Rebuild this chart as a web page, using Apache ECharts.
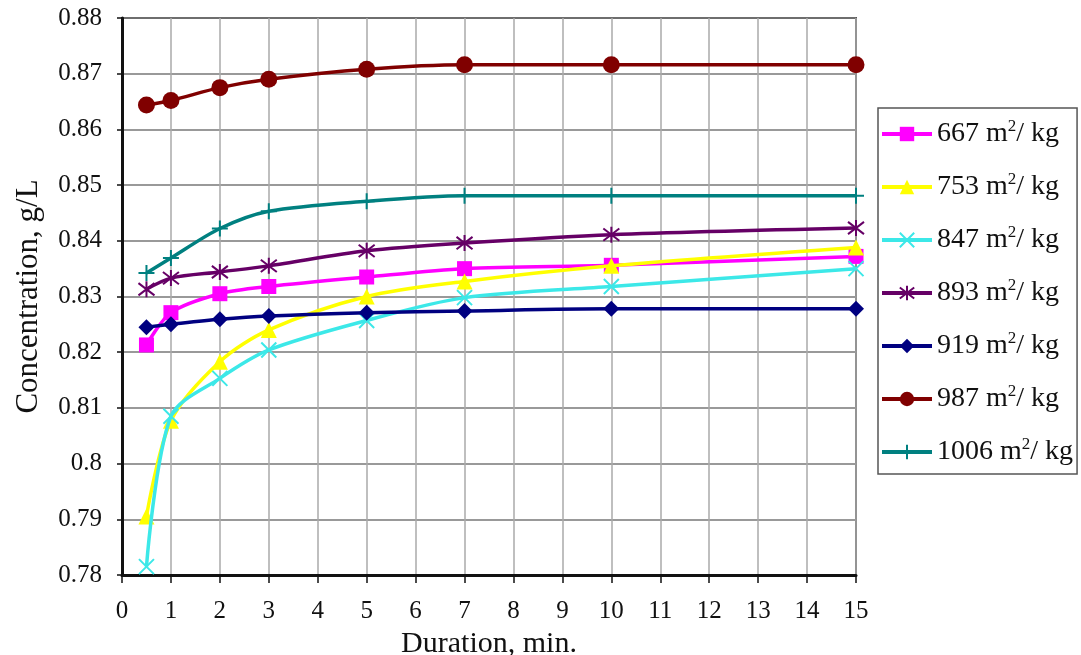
<!DOCTYPE html>
<html>
<head>
<meta charset="utf-8">
<script src="https://cdn.jsdelivr.net/npm/echarts@6/dist/echarts.min.js"></script>
<style>
html,body{margin:0;padding:0;background:#fff;}
#main{width:1081px;height:655px;}
</style>
</head>
<body>
<div id="main"></div>
<script>
// ---- data ----
const durations = [0.5, 1, 2, 3, 5, 7, 10, 15];
const seriesNames = ['667', '753', '847', '893', '919', '987', '1006'];
const s667  = [0.8213, 0.8271, 0.8305, 0.8318, 0.8335, 0.8350, 0.8356, 0.8372];
const s753  = [0.7905, 0.8077, 0.8183, 0.8240, 0.8300, 0.8327, 0.8355, 0.8388];
const s847  = [0.7815, 0.8085, 0.8153, 0.8204, 0.8257, 0.8298, 0.8318, 0.8350];
const s893  = [0.8313, 0.8333, 0.8344, 0.8355, 0.8382, 0.8396, 0.8411, 0.8423];
const s919  = [0.8245, 0.8250, 0.8259, 0.8265, 0.8271, 0.8274, 0.8278, 0.8278];
const s987  = [0.8644, 0.8652, 0.8675, 0.8690, 0.8708, 0.8716, 0.8716, 0.8716];
const s1006 = [0.8342, 0.8369, 0.8422, 0.8453, 0.8471, 0.8481, 0.8481, 0.8481];
const yTicks = {min: 0.78, max: 0.88, interval: 0.01};
const xTicks = {min: 0, max: 15, interval: 1};

const values = [s667, s753, s847, s893, s919, s987, s1006];
const colors = ['#ff00ff', '#ffff00', '#3ce8e8', '#660066', '#000080', '#800000', '#008080'];
const symbols = [
  'rect',
  'triangle',
  'path://M0,0 L10,10 M10,0 L0,10',
  'path://M0,0 L10,10 M10,0 L0,10 M5,-1.5 L5,11.5',
  'diamond',
  'circle',
  'path://M0,5 L10,5 M5,0 L5,10'
];
const symSizes = [15, 16, 15, 16, 16, 17, 16];

const FONT = '"Liberation Serif", "DejaVu Serif", serif';

const series = seriesNames.map((n, i) => ({
  name: n,
  type: 'line',
  data: durations.map((d, j) => [d, values[i][j]]),
  smooth: 0.3,
  symbol: symbols[i],
  symbolSize: symSizes[i],
  lineStyle: {color: colors[i], width: 3.5},
  itemStyle: {
    color: colors[i],
    borderColor: colors[i],
    borderWidth: (i === 2 || i === 3 || i === 6) ? 2 : 0
  },
  z: 2 + i
}));

const chart = echarts.init(document.getElementById('main'), null, {renderer: 'canvas'});
chart.setOption({
  backgroundColor: '#fff',
  animation: false,
  grid: {
    left: 122, right: 225, top: 18, bottom: 80,
    containLabel: false,
    outerBoundsMode: 'none',
    show: true, borderColor: '#555', borderWidth: 2
  },
  xAxis: {
    type: 'value',
    min: xTicks.min, max: xTicks.max, interval: xTicks.interval,
    name: 'Duration, min.',
    nameLocation: 'middle',
    nameGap: 47,
    nameTextStyle: {fontFamily: FONT, fontSize: 30, color: '#111'},
    axisLine: {lineStyle: {color: '#111', width: 3}},
    axisTick: {show: true, length: 8, lineStyle: {color: '#111', width: 1.5}},
    axisLabel: {fontFamily: FONT, fontSize: 25, color: '#111', margin: 24},
    splitLine: {show: true, lineStyle: {color: '#aaaaaa', width: 1.5}}
  },
  yAxis: {
    type: 'value',
    min: yTicks.min, max: yTicks.max, interval: yTicks.interval,
    name: 'Concentration, g/L',
    nameLocation: 'middle',
    nameGap: 78,
    nameTextStyle: {fontFamily: FONT, fontSize: 31, color: '#111'},
    axisLine: {show: true, lineStyle: {color: '#111', width: 3}},
    axisTick: {show: true, length: 5, lineStyle: {color: '#111', width: 1.5}},
    axisLabel: {fontFamily: FONT, fontSize: 25, color: '#111', margin: 20},
    splitLine: {show: true, lineStyle: {color: '#777777', width: 1.5}}
  },
  legend: {
    orient: 'vertical',
    left: 878, top: 108,
    padding: [10, 4, 6, 2],
    itemGap: 21,
    itemWidth: 50,
    itemHeight: 18,
    borderColor: '#555',
    borderWidth: 1.5,
    backgroundColor: '#fff',
    lineStyle: {width: 4},
    data: seriesNames,
    formatter: n => n + ' m{s|2}/ kg',
    textStyle: {
      fontFamily: FONT, fontSize: 28, color: '#111', lineHeight: 32,
      rich: {s: {fontFamily: FONT, fontSize: 17, color: '#111', lineHeight: 32, verticalAlign: 'top', padding: [0, 0, 12, 0]}}
    }
  },
  series: series
});
</script>
</body>
</html>
